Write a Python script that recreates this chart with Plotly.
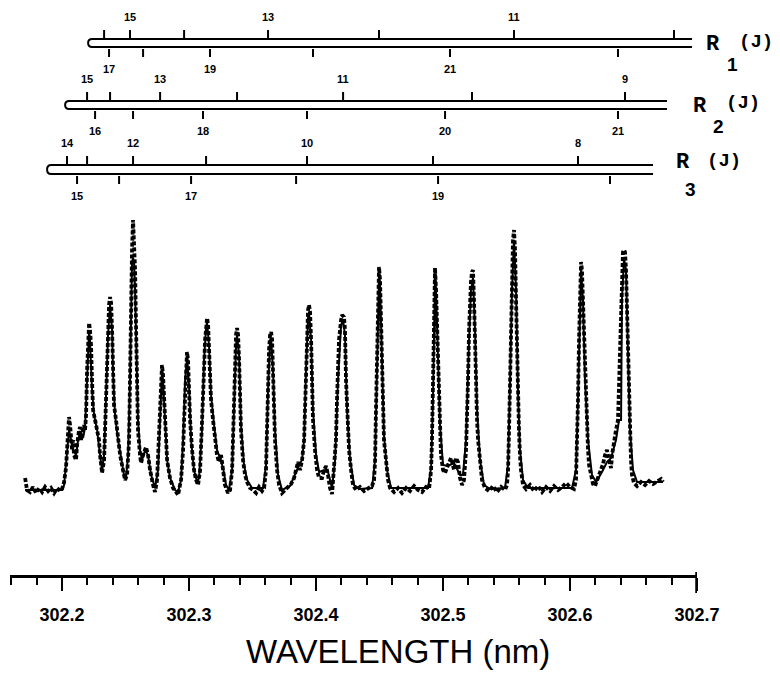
import plotly.graph_objects as go

# ---------------------------------------------------------------------------
# Measured spectrum: wavelength (nm) and intensity (arbitrary units)
# ---------------------------------------------------------------------------
exp_wavelength = [
    302.1709, 302.1724, 302.1748, 302.1772, 302.1795, 302.1819, 302.1843, 302.1866, 302.1890, 302.1913,
    302.1937, 302.1961, 302.1984, 302.2000, 302.2016, 302.2031, 302.2039, 302.2047, 302.2055, 302.2063,
    302.2071, 302.2079, 302.2087, 302.2094, 302.2110, 302.2118, 302.2134, 302.2142, 302.2150, 302.2157,
    302.2173, 302.2181, 302.2189, 302.2197, 302.2205, 302.2213, 302.2220, 302.2228, 302.2236, 302.2244,
    302.2260, 302.2276, 302.2291, 302.2299, 302.2307, 302.2315, 302.2331, 302.2346, 302.2354, 302.2362,
    302.2370, 302.2378, 302.2386, 302.2394, 302.2402, 302.2409, 302.2425, 302.2441, 302.2457, 302.2472,
    302.2488, 302.2496, 302.2512, 302.2528, 302.2535, 302.2543, 302.2551, 302.2559, 302.2567, 302.2575,
    302.2583, 302.2591, 302.2598, 302.2614, 302.2622, 302.2638, 302.2661, 302.2677, 302.2693, 302.2717,
    302.2732, 302.2748, 302.2764, 302.2772, 302.2780, 302.2787, 302.2795, 302.2803, 302.2811, 302.2827,
    302.2850, 302.2874, 302.2898, 302.2913, 302.2937, 302.2953, 302.2961, 302.2969, 302.2976, 302.2984,
    302.2992, 302.3000, 302.3008, 302.3024, 302.3039, 302.3055, 302.3071, 302.3087, 302.3102, 302.3110,
    302.3118, 302.3126, 302.3134, 302.3142, 302.3150, 302.3157, 302.3165, 302.3173, 302.3189, 302.3205,
    302.3220, 302.3236, 302.3252, 302.3268, 302.3283, 302.3307, 302.3323, 302.3339, 302.3346, 302.3354,
    302.3362, 302.3370, 302.3378, 302.3386, 302.3394, 302.3402, 302.3409, 302.3425, 302.3441, 302.3457,
    302.3480, 302.3504, 302.3528, 302.3551, 302.3575, 302.3591, 302.3606, 302.3614, 302.3622, 302.3630,
    302.3638, 302.3646, 302.3654, 302.3661, 302.3669, 302.3677, 302.3693, 302.3709, 302.3732, 302.3756,
    302.3780, 302.3803, 302.3827, 302.3843, 302.3858, 302.3874, 302.3890, 302.3906, 302.3913, 302.3921,
    302.3929, 302.3937, 302.3945, 302.3953, 302.3961, 302.3969, 302.3976, 302.3992, 302.4008, 302.4024,
    302.4047, 302.4063, 302.4079, 302.4094, 302.4110, 302.4126, 302.4142, 302.4157, 302.4165, 302.4173,
    302.4181, 302.4197, 302.4205, 302.4220, 302.4228, 302.4236, 302.4244, 302.4252, 302.4260, 302.4276,
    302.4291, 302.4315, 302.4346, 302.4378, 302.4409, 302.4441, 302.4457, 302.4465, 302.4472, 302.4480,
    302.4488, 302.4496, 302.4504, 302.4512, 302.4520, 302.4528, 302.4535, 302.4551, 302.4567, 302.4583,
    302.4614, 302.4646, 302.4677, 302.4709, 302.4740, 302.4772, 302.4803, 302.4835, 302.4866, 302.4890,
    302.4906, 302.4913, 302.4921, 302.4929, 302.4937, 302.4945, 302.4953, 302.4961, 302.4969, 302.4976,
    302.4984, 302.5000, 302.5016, 302.5039, 302.5063, 302.5087, 302.5102, 302.5118, 302.5134, 302.5150,
    302.5165, 302.5181, 302.5189, 302.5197, 302.5205, 302.5213, 302.5220, 302.5228, 302.5236, 302.5244,
    302.5252, 302.5260, 302.5268, 302.5276, 302.5291, 302.5307, 302.5331, 302.5362, 302.5394, 302.5425,
    302.5457, 302.5488, 302.5504, 302.5512, 302.5520, 302.5528, 302.5535, 302.5543, 302.5551, 302.5559,
    302.5567, 302.5575, 302.5583, 302.5591, 302.5598, 302.5606, 302.5614, 302.5630, 302.5654, 302.5685,
    302.5717, 302.5748, 302.5780, 302.5811, 302.5843, 302.5874, 302.5906, 302.5937, 302.5969, 302.6000,
    302.6031, 302.6047, 302.6055, 302.6063, 302.6071, 302.6079, 302.6087, 302.6094, 302.6102, 302.6110,
    302.6118, 302.6126, 302.6134, 302.6142, 302.6150, 302.6165, 302.6181, 302.6197, 302.6213, 302.6228,
    302.6244, 302.6260, 302.6276, 302.6291, 302.6307, 302.6323, 302.6331, 302.6346, 302.6362, 302.6378,
    302.6386, 302.6394, 302.6402, 302.6409, 302.6417, 302.6425, 302.6433, 302.6441, 302.6449, 302.6457,
    302.6465, 302.6472, 302.6480, 302.6488, 302.6504, 302.6528, 302.6559, 302.6591, 302.6622, 302.6654,
    302.6685, 302.6717, 302.6732,
]
exp_intensity = [
    12, 0, -2, 3, -3, 2, -2, 3, -1, 2,
    -3, 2, -1, 1, 8, 22, 40, 62, 73, 65,
    45, 40, 50, 35, 30, 45, 60, 63, 50, 55,
    65, 60, 75, 120, 150, 167, 160, 145, 110, 80,
    70, 60, 50, 35, 22, 17, 30, 90, 130, 160,
    185, 193, 187, 160, 110, 85, 70, 50, 35, 25,
    12, 10, 15, 50, 110, 190, 240, 270, 250, 220,
    160, 100, 60, 35, 27, 35, 43, 35, 20, 5,
    -2, 10, 60, 90, 110, 125, 115, 90, 60, 30,
    12, 2, -2, -5, 10, 40, 70, 95, 125, 138,
    130, 100, 70, 40, 20, 10, 5, 20, 60, 90,
    120, 150, 165, 172, 165, 140, 110, 90, 70, 50,
    35, 28, 35, 20, 5, -3, 0, 20, 50, 90,
    130, 155, 162, 155, 130, 90, 60, 30, 15, 8,
    2, 0, -3, 3, -1, 2, 20, 60, 110, 140,
    155, 158, 150, 120, 90, 50, 20, 5, -3, 0,
    3, 6, 12, 20, 28, 20, 30, 50, 80, 120,
    160, 180, 185, 178, 150, 110, 70, 40, 20, 12,
    12, 20, 24, 15, 2, -4, 20, 50, 90, 120,
    150, 170, 175, 173, 160, 110, 80, 60, 40, 20,
    5, 0, 3, -1, 2, 4, 10, 30, 80, 140,
    190, 223, 210, 170, 110, 70, 50, 30, 10, 2,
    -2, 2, -3, 2, -1, 4, 0, -2, 3, 1,
    20, 50, 110, 190, 222, 200, 160, 120, 90, 60,
    35, 20, 17, 25, 32, 20, 32, 28, 12, 5,
    10, 40, 70, 110, 160, 190, 208, 218, 220, 190,
    140, 100, 70, 50, 25, 10, 2, -1, 4, -2,
    3, 0, 5, 20, 60, 120, 170, 220, 250, 260,
    240, 190, 130, 90, 60, 35, 20, 5, 1, 5,
    -1, 4, -2, 3, -1, 4, 0, 3, 7, 3,
    1, 10, 40, 90, 150, 200, 228, 220, 190, 150,
    110, 90, 60, 40, 25, 15, 6, 4, 10, 14,
    22, 26, 35, 40, 30, 22, 35, 50, 60, 70,
    110, 160, 200, 228, 238, 240, 238, 220, 180, 130,
    90, 50, 30, 15, 7, 4, 8, 5, 9, 6,
    9, 11, 8,
]

# ---------------------------------------------------------------------------
# Simulated spectrum: wavelength (nm) and intensity (arbitrary units)
# ---------------------------------------------------------------------------
sim_wavelength = [
    302.1709, 302.2000, 302.2016, 302.2039, 302.2055, 302.2071, 302.2087, 302.2110, 302.2126, 302.2142,
    302.2165, 302.2181, 302.2197, 302.2205, 302.2213, 302.2220, 302.2236, 302.2252, 302.2276, 302.2299,
    302.2315, 302.2331, 302.2346, 302.2362, 302.2378, 302.2394, 302.2402, 302.2417, 302.2441, 302.2465,
    302.2488, 302.2504, 302.2520, 302.2535, 302.2543, 302.2551, 302.2559, 302.2567, 302.2575, 302.2583,
    302.2598, 302.2614, 302.2630, 302.2654, 302.2677, 302.2701, 302.2732, 302.2756, 302.2772, 302.2780,
    302.2787, 302.2795, 302.2811, 302.2827, 302.2850, 302.2890, 302.2913, 302.2937, 302.2953, 302.2969,
    302.2984, 302.3000, 302.3016, 302.3039, 302.3063, 302.3079, 302.3102, 302.3118, 302.3134, 302.3142,
    302.3157, 302.3173, 302.3197, 302.3220, 302.3244, 302.3268, 302.3291, 302.3315, 302.3339, 302.3354,
    302.3370, 302.3378, 302.3394, 302.3409, 302.3433, 302.3457, 302.3496, 302.3583, 302.3606, 302.3622,
    302.3638, 302.3646, 302.3661, 302.3677, 302.3701, 302.3732, 302.3795, 302.3843, 302.3866, 302.3890,
    302.3906, 302.3921, 302.3937, 302.3945, 302.3961, 302.3976, 302.4000, 302.4024, 302.4063, 302.4094,
    302.4126, 302.4150, 302.4173, 302.4197, 302.4213, 302.4228, 302.4244, 302.4268, 302.4299, 302.4346,
    302.4441, 302.4465, 302.4480, 302.4496, 302.4504, 302.4520, 302.4535, 302.4559, 302.4591, 302.4882,
    302.4906, 302.4921, 302.4937, 302.4945, 302.4961, 302.4976, 302.5000, 302.5039, 302.5087, 302.5134,
    302.5157, 302.5181, 302.5205, 302.5220, 302.5236, 302.5252, 302.5268, 302.5291, 302.5323, 302.5370,
    302.5488, 302.5512, 302.5528, 302.5543, 302.5559, 302.5575, 302.5591, 302.5606, 302.5630, 302.5669,
    302.6016, 302.6047, 302.6063, 302.6079, 302.6087, 302.6102, 302.6118, 302.6142, 302.6173, 302.6205,
    302.6252, 302.6291, 302.6323, 302.6362, 302.6386, 302.6402, 302.6409, 302.6425, 302.6441, 302.6457,
    302.6472, 302.6496, 302.6528, 302.6732,
]
sim_intensity = [
    0, 0, 5, 35, 60, 50, 40, 35, 50, 58,
    52, 62, 110, 145, 160, 150, 100, 75, 60, 35,
    20, 35, 90, 155, 185, 160, 115, 75, 50, 30,
    15, 12, 35, 110, 190, 228, 232, 228, 200, 150,
    70, 40, 30, 40, 35, 15, 2, 20, 80, 105,
    120, 110, 65, 30, 12, 0, -2, 10, 50, 110,
    132, 105, 50, 20, 8, 12, 60, 130, 162, 168,
    145, 95, 65, 40, 32, 22, 5, 0, 20, 90,
    145, 155, 135, 65, 25, 10, 2, 2, 25, 100,
    150, 152, 120, 60, 15, 0, 4, 18, 25, 30,
    50, 120, 172, 178, 150, 80, 35, 18, 20, 18,
    2, 30, 110, 165, 170, 155, 80, 30, 5, 1,
    2, 30, 130, 215, 205, 120, 55, 20, 2, 2,
    22, 90, 215, 200, 120, 65, 25, 24, 27, 15,
    15, 50, 150, 200, 212, 160, 80, 30, 5, 1,
    2, 25, 110, 200, 250, 200, 95, 40, 10, 2,
    2, 20, 90, 190, 220, 190, 110, 50, 15, 8,
    18, 28, 32, 50, 70, 70, 190, 232, 220, 135,
    60, 20, 8, 8,
]

# ---------------------------------------------------------------------------
# R-branch line positions (nm) and the J labels printed next to them
# ---------------------------------------------------------------------------
r1_upper_wl = [302.2331, 302.2535, 302.2961, 302.3622, 302.4496, 302.5559, 302.6819]
r1_upper_lab = ["", "15", "", "13", "", "11", ""]
r1_lower_wl = [302.2370, 302.2638, 302.3165, 302.3976, 302.5055, 302.6378]
r1_lower_lab = ["17", "", "19", "", "21", ""]

r2_upper_wl = [302.2197, 302.2378, 302.2772, 302.3378, 302.4213, 302.5228, 302.6433]
r2_upper_lab = ["15", "", "13", "", "11", "", "9"]
r2_lower_wl = [302.2260, 302.2559, 302.3110, 302.3929, 302.5016, 302.6378]
r2_lower_lab = ["16", "", "18", "", "20", "21"]

r3_upper_wl = [302.2039, 302.2197, 302.2559, 302.3134, 302.3929, 302.4921, 302.6063]
r3_upper_lab = ["14", "", "12", "", "10", "", "8"]
r3_lower_wl = [302.2118, 302.2449, 302.3016, 302.3843, 302.4961, 302.6315]
r3_lower_lab = ["15", "", "17", "", "19", ""]

branch_names = ["1", "2", "3"]
bar_start_wl = [302.2205, 302.2024, 302.1882]
bar_end_wl = [302.6961, 302.6764, 302.6654]

tick_values = [302.2, 302.3, 302.4, 302.5, 302.6, 302.7]

# ---------------------------------------------------------------------------
# Layout geometry
# ---------------------------------------------------------------------------
W, H = 780, 673
M_L, M_R, M_T, M_B = 10, 83, 0, 98
PLOT_W = W - M_L - M_R
PLOT_H = H - M_T - M_B
X_RANGE = [302.159, 302.7]
Y_RANGE = [-85, 490]


def py(px):
    """Vertical page position (px from top) -> paper coordinate."""
    return (PLOT_H + M_T - px) / PLOT_H


def pxx(px):
    """Horizontal page position (px from left) -> paper coordinate."""
    return (px - M_L) / PLOT_W


branches = [
    dict(name=branch_names[0], top=39, gap=8, start=bar_start_wl[0], end=bar_end_wl[0],
         up=(r1_upper_wl, r1_upper_lab), lo=(r1_lower_wl, r1_lower_lab),
         r_pos=(713, 44), sub_pos=(732, 64), j_pos=(756, 42)),
    dict(name=branch_names[1], top=101, gap=8, start=bar_start_wl[1], end=bar_end_wl[1],
         up=(r2_upper_wl, r2_upper_lab), lo=(r2_lower_wl, r2_lower_lab),
         r_pos=(700, 106), sub_pos=(718, 126), j_pos=(743, 103)),
    dict(name=branch_names[2], top=165, gap=9, start=bar_start_wl[2], end=bar_end_wl[2],
         up=(r3_upper_wl, r3_upper_lab), lo=(r3_lower_wl, r3_lower_lab),
         r_pos=(683, 162), sub_pos=(690, 189), j_pos=(724, 161)),
]

fig = go.Figure()

fig.add_trace(go.Scatter(
    x=exp_wavelength, y=exp_intensity, mode="lines",
    line=dict(color="black", width=3.8, dash="4px,2px"),
    hoverinfo="skip", showlegend=False,
))
fig.add_trace(go.Scatter(
    x=sim_wavelength, y=sim_intensity, mode="lines",
    line=dict(color="black", width=2),
    hoverinfo="skip", showlegend=False,
))

shapes = []
annotations = []
num_font = dict(family="Liberation Sans, Arial, sans-serif", size=11, color="black", weight="bold")
R_CAP = 0.0032  # horizontal extent of the rounded bar end (nm)

for b in branches:
    yt = b["top"]
    yb = yt + b["gap"]
    xl, xr = b["start"], b["end"]
    path = (f"M {xr},{py(yt)} L {xl + R_CAP},{py(yt)} "
            f"Q {xl},{py(yt)} {xl},{py((yt + yb) / 2)} "
            f"Q {xl},{py(yb)} {xl + R_CAP},{py(yb)} L {xr},{py(yb)}")
    shapes.append(dict(type="path", path=path, xref="x", yref="paper",
                       line=dict(color="black", width=2)))

    for wl, lab in zip(*b["up"]):
        shapes.append(dict(type="line", xref="x", yref="paper", x0=wl, x1=wl,
                           y0=py(yt - 1), y1=py(yt - 9), line=dict(color="black", width=2)))
        if lab:
            annotations.append(dict(x=wl, y=py(yt - 22), xref="x", yref="paper", text=lab,
                                    showarrow=False, font=num_font, xanchor="center", yanchor="middle"))
    for wl, lab in zip(*b["lo"]):
        shapes.append(dict(type="line", xref="x", yref="paper", x0=wl, x1=wl,
                           y0=py(yb + 2), y1=py(yb + 10), line=dict(color="black", width=2)))
        if lab:
            annotations.append(dict(x=wl, y=py(yb + 22), xref="x", yref="paper", text=lab,
                                    showarrow=False, font=num_font, xanchor="center", yanchor="middle"))

    annotations.append(dict(x=pxx(b["r_pos"][0]), y=py(b["r_pos"][1]), xref="paper", yref="paper",
                            text="R", showarrow=False, xanchor="center", yanchor="middle",
                            font=dict(family="Liberation Mono, Courier New, monospace", size=22,
                                      color="black", weight="bold")))
    annotations.append(dict(x=pxx(b["sub_pos"][0]), y=py(b["sub_pos"][1]), xref="paper", yref="paper",
                            text=b["name"], showarrow=False, xanchor="center", yanchor="middle",
                            font=dict(family="Liberation Sans, Arial, sans-serif", size=19, color="black",
                                      weight="bold")))
    annotations.append(dict(x=pxx(b["j_pos"][0]), y=py(b["j_pos"][1]), xref="paper", yref="paper",
                            text="(J)", showarrow=False, xanchor="center", yanchor="middle",
                            font=dict(family="Liberation Mono, Courier New, monospace", size=19,
                                      color="black", weight="bold")))

# heavy end mark of the wavelength scale
shapes.append(dict(type="line", xref="x", yref="paper", x0=X_RANGE[1], x1=X_RANGE[1],
                   y0=py(572), y1=py(593), line=dict(color="black", width=3.5)))

annotations.append(dict(x=pxx(398), y=py(651), xref="paper", yref="paper",
                        text="WAVELENGTH (nm)", showarrow=False, xanchor="center", yanchor="middle",
                        font=dict(family="Liberation Sans, Arial, sans-serif", size=33, color="black")))

fig.update_layout(
    width=W, height=H,
    margin=dict(l=M_L, r=M_R, t=M_T, b=M_B, pad=0),
    paper_bgcolor="white", plot_bgcolor="white",
    showlegend=False, hovermode=False,
    shapes=shapes, annotations=annotations,
    xaxis=dict(
        range=X_RANGE, showgrid=False, zeroline=False,
        showline=True, linecolor="black", linewidth=3,
        tickmode="array", tickvals=tick_values, ticktext=[f"{v:.1f}" for v in tick_values],
        ticks="outside", ticklen=13, tickwidth=2.5, tickcolor="black",
        ticklabelstandoff=8,
        minor=dict(dtick=0.02, tick0=302.2, ticks="outside", ticklen=7, tickwidth=2,
                   tickcolor="black", showgrid=False),
        tickfont=dict(family="Liberation Sans, Arial, sans-serif", size=18, color="black",
                      weight="bold"),
    ),
    yaxis=dict(range=Y_RANGE, visible=False, showgrid=False, zeroline=False),
)

fig.write_html("out.html", config={"displayModeBar": False, "staticPlot": True})
